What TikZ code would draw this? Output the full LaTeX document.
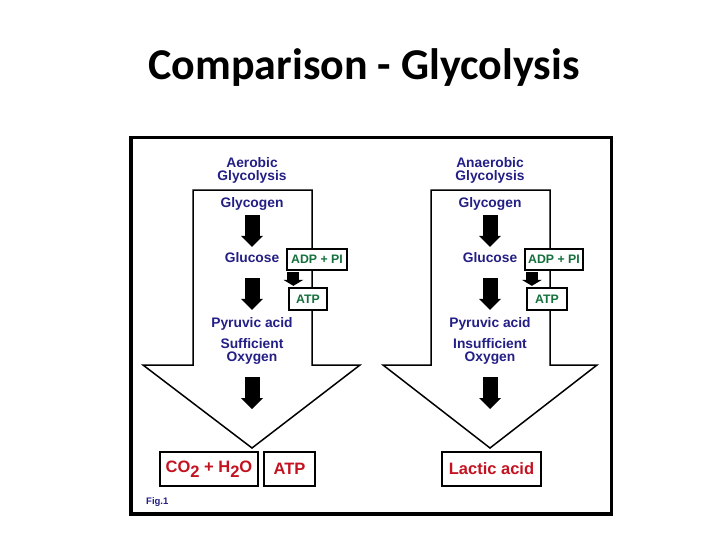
\documentclass[tikz,border=0pt]{standalone}
\usepackage{fontspec}
\setmainfont{Liberation Sans}
\newfontfamily\titlefont{Carlito}
\usetikzlibrary{arrows.meta}
\definecolor{navy}{RGB}{35,31,133}
\definecolor{grn}{RGB}{20,112,60}
\definecolor{rd}{RGB}{196,18,32}
\begin{document}
\begin{tikzpicture}[x=1pt,y=-1pt,
  lbl/.style={font=\fontsize{13.8}{14}\selectfont\bfseries, text=navy, inner sep=0pt, text height=9.7pt, text depth=2.8pt, anchor=base},
  gbox/.style={draw=black, line width=1.3pt, fill=white, text=grn, font=\fontsize{12.3}{12.3}\selectfont\bfseries, inner sep=0pt},
  rbox/.style={draw=black, line width=1.6pt, fill=white, text=rd, font=\fontsize{16.5}{16.5}\selectfont\bfseries, inner sep=0pt, minimum height=34pt},
  blockarrow/.style={line width=15pt, -{Triangle[line width=0pt,width=22pt,length=11pt]}},
  smallarrow/.style={line width=12pt, -{Triangle[line width=0pt,width=20pt,length=6pt]}},
  bigarrow/.style={draw=black, line width=1.5pt, fill=white, line join=miter}
]
\useasboundingbox (0,0) rectangle (728,546);
\node[font={\titlefont\bfseries\fontsize{44}{44}\selectfont}, anchor=base, inner sep=0pt] (title) at (364,79) {Comparison - Glycolysis};
\draw[line width=3.5pt] (131,137.5) rectangle (611.5,514);

% left column
\draw[bigarrow] (193,190) -- (312,190) -- (312,365) -- (360,365) -- (252,448) -- (143,365) -- (193,365) -- cycle;
\coordinate (tipA) at (252,448);
\node[lbl] (aer) at (252,167) {Aerobic};
\node[lbl] (glyA) at (252,180.4) {Glycolysis};
\node[lbl] (gcgA) at (252,207.4) {Glycogen};
\node[lbl] (gluA) at (252,262.4) {Glucose};
\node[lbl] (pyrA) at (252,327.4) {Pyruvic acid};
\node[lbl] (sufA) at (252,348) {Sufficient};
\node[lbl] (oxyA) at (252,361.4) {Oxygen};
\node[gbox, minimum width=60pt, minimum height=21pt] (adpA) at (317,259.5) {ADP + PI};
\node[gbox, minimum width=38pt, minimum height=22pt] (atpA) at (308,299) {ATP};
\draw[blockarrow, shorten <=4.8pt, shorten >=5.7pt] (gcgA.south) -- (gluA.north);
\draw[blockarrow, shorten <=12.8pt, shorten >=7.7pt] (gluA.south) -- (pyrA.north);
\draw[blockarrow, shorten <=12.8pt, shorten >=39pt] (oxyA.south) -- (tipA);
\draw[smallarrow, shorten <=1.5pt, shorten >=1.5pt] ([xshift=7pt]adpA.south west) -- ([xshift=7pt]adpA.south west |- atpA.north);
\node[rbox, minimum width=98pt] (co2) at (209,469) {CO\raisebox{-4.5pt}{2} + H\raisebox{-4.5pt}{2}O};
\node[rbox, minimum width=51pt] (atpR) at (289.5,469) {ATP};
\node[font=\fontsize{9.5}{10}\selectfont\bfseries, text=navy, anchor=base west, inner sep=0pt] (fig) at (146,504) {Fig.1};

% right column
\draw[bigarrow] (431,190) -- (550,190) -- (550,365) -- (597,365) -- (490,448) -- (383,365) -- (431,365) -- cycle;
\coordinate (tipB) at (490,448);
\node[lbl] (anaer) at (490,167) {Anaerobic};
\node[lbl] (glyB) at (490,180.4) {Glycolysis};
\node[lbl] (gcgB) at (490,207.4) {Glycogen};
\node[lbl] (gluB) at (490,262.4) {Glucose};
\node[lbl] (pyrB) at (490,327.4) {Pyruvic acid};
\node[lbl] (sufB) at (490,348) {Insufficient};
\node[lbl] (oxyB) at (490,361.4) {Oxygen};
\node[gbox, minimum width=58pt, minimum height=21pt] (adpB) at (554,259.5) {ADP + PI};
\node[gbox, minimum width=40pt, minimum height=22pt] (atpB) at (547,299) {ATP};
\draw[blockarrow, shorten <=4.8pt, shorten >=5.7pt] (gcgB.south) -- (gluB.north);
\draw[blockarrow, shorten <=12.8pt, shorten >=7.7pt] (gluB.south) -- (pyrB.north);
\draw[blockarrow, shorten <=12.8pt, shorten >=39pt] (oxyB.south) -- (tipB);
\draw[smallarrow, shorten <=1.5pt, shorten >=1.5pt] ([xshift=7.5pt]adpB.south west) -- ([xshift=7.5pt]adpB.south west |- atpB.north);
\node[rbox, minimum width=99pt] (lactic) at (491.5,469) {Lactic acid};
\end{tikzpicture}
\end{document}
